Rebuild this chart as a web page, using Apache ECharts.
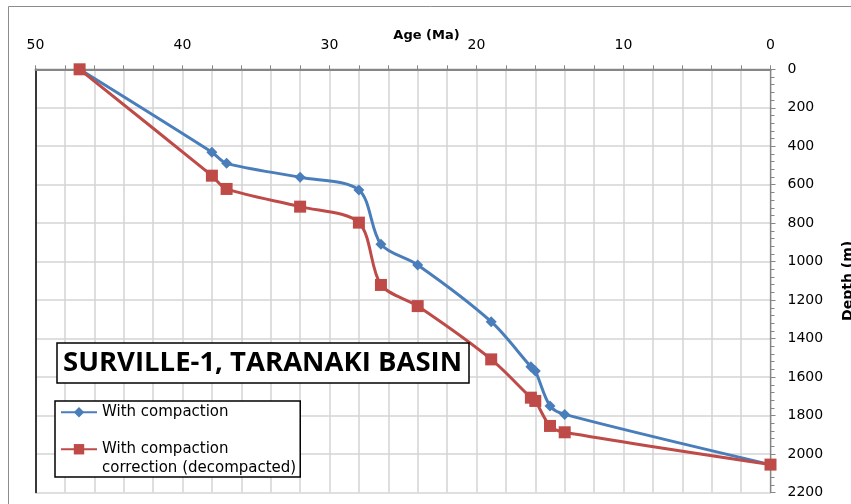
<!DOCTYPE html>
<html>
<head>
<meta charset="utf-8">
<script src="https://cdn.jsdelivr.net/npm/echarts@6/dist/echarts.min.js"></script>
<style>
html,body{margin:0;padding:0;background:#fff;}
#chart{width:851px;height:504px;}
</style>
</head>
<body>
<div id="chart"></div>
<script>
// ---- data ----
const ages = [47, 38, 37, 32, 28, 26.5, 24, 19, 16.3, 16, 15, 14, 0];
const depthCompaction = [0, 431, 489, 561, 627, 910, 1017, 1312, 1546, 1568, 1750, 1794, 2055];
const depthDecompacted = [0, 553, 622, 714, 797, 1121, 1231, 1508, 1707, 1724, 1854, 1887, 2055];
const seriesNames = ['With compaction', 'With compaction correction (decompacted)'];
const legendLabels = ['With compaction', ' \nWith compaction\ncorrection (decompacted)'];
const titleText = 'SURVILLE-1, TARANAKI BASIN';
const xAxisName = 'Age (Ma)';
const yAxisName = 'Depth (m)';

const pairs = (xs, ys) => xs.map((x, i) => [x, ys[i]]);

const chart = echarts.init(document.getElementById('chart'), null, {renderer: 'canvas'});
const gray = '#868686';
const gridColor = '#d4d4d4';
const plain = v => String(v);

chart.setOption({
  backgroundColor: '#fff',
  animation: false,
  title: {
    text: titleText,
    left: 57,
    top: 343,
    backgroundColor: '#fff',
    borderColor: '#000',
    borderWidth: 1.5,
    padding: [3, 7, 3, 6],
    textStyle: {fontFamily: 'Open Sans', fontWeight: 'bold', fontSize: 27.5, lineHeight: 34, color: '#000'},
    z: 10
  },
  legend: {
    orient: 'vertical',
    left: 55,
    top: 401,
    padding: [2, 4, 0, 5],
    itemGap: 0,
    itemWidth: 36,
    itemHeight: 13,
    borderColor: '#000',
    borderWidth: 1.5,
    backgroundColor: '#fff',
    textStyle: {fontFamily: 'DejaVu Sans', fontSize: 15, lineHeight: 18.5, color: '#000'},
    data: seriesNames,
    formatter: function (n) { return legendLabels[seriesNames.indexOf(n)]; },
    z: 10
  },
  grid: {left: 35.5, right: 80.5, top: 69.3, bottom: 11.5, containLabel: false, outerBoundsMode: 'none'},
  xAxis: [{
    type: 'value', position: 'top', inverse: true, min: 0, max: 50, interval: 10,
    name: xAxisName, nameLocation: 'middle', nameGap: 27, nameMoveOverlap: false,
    nameTextStyle: {fontFamily: 'DejaVu Sans', fontWeight: 'bold', fontSize: 13, color: '#000', padding: [0, 0, 0, 47]},
    axisLine: {show: true, lineStyle: {color: gray, width: 1.3}},
    axisTick: {show: true, length: 4, lineStyle: {color: gray}},
    minorTick: {show: true, splitNumber: 5, length: 4, lineStyle: {color: gray}},
    axisLabel: {margin: 17, fontFamily: 'DejaVu Sans', fontSize: 14, color: '#000', formatter: plain},
    splitLine: {show: true, lineStyle: {color: gridColor, width: 1.5}},
    minorSplitLine: {show: true, lineStyle: {color: gridColor, width: 1.5}}
  }, {
    type: 'value', position: 'bottom', min: 0, max: 50,
    axisLine: {show: true, lineStyle: {color: gray, width: 2}},
    axisTick: {show: false}, axisLabel: {show: false}, splitLine: {show: false}
  }],
  yAxis: [{
    type: 'value', position: 'right', inverse: true, min: 0, max: 2200, interval: 200,
    name: yAxisName, nameLocation: 'middle', nameRotate: 90, nameGap: 71, nameMoveOverlap: false,
    nameTextStyle: {fontFamily: 'DejaVu Sans', fontWeight: 'bold', fontSize: 14, color: '#000'},
    axisLine: {show: true, lineStyle: {color: gray, width: 1.3}},
    axisTick: {show: true, length: 5, lineStyle: {color: gray}},
    minorTick: {show: true, splitNumber: 5, length: 4, lineStyle: {color: gray}},
    axisLabel: {margin: 17, fontFamily: 'DejaVu Sans', fontSize: 14, color: '#000', formatter: plain},
    splitLine: {show: true, lineStyle: {color: gridColor, width: 1.5}}
  }, {
    type: 'value', position: 'left', inverse: true, min: 0, max: 2200,
    axisLine: {show: true, lineStyle: {color: '#000', width: 1.5}},
    axisTick: {show: false}, axisLabel: {show: false}, splitLine: {show: false}
  }],
  graphic: [{
    type: 'rect', silent: true, z: -1,
    shape: {x: 8.5, y: 6.5, width: 900, height: 600},
    style: {fill: 'none', stroke: '#8c8c8c', lineWidth: 1}
  }],
  series: [{
    name: seriesNames[0], type: 'line', xAxisIndex: 0, yAxisIndex: 0,
    data: pairs(ages, depthCompaction),
    smooth: 0.3,
    symbol: 'diamond', symbolSize: 11,
    color: '#4A7EBB',
    lineStyle: {width: 3, color: '#4A7EBB'},
    itemStyle: {color: '#4A7EBB'}
  }, {
    name: seriesNames[1], type: 'line', xAxisIndex: 0, yAxisIndex: 0,
    data: pairs(ages, depthDecompacted),
    smooth: 0.3,
    symbol: 'rect', symbolSize: 12,
    color: '#BE4B48',
    lineStyle: {width: 3, color: '#BE4B48'},
    itemStyle: {color: '#BE4B48'}
  }]
});
</script>
</body>
</html>
